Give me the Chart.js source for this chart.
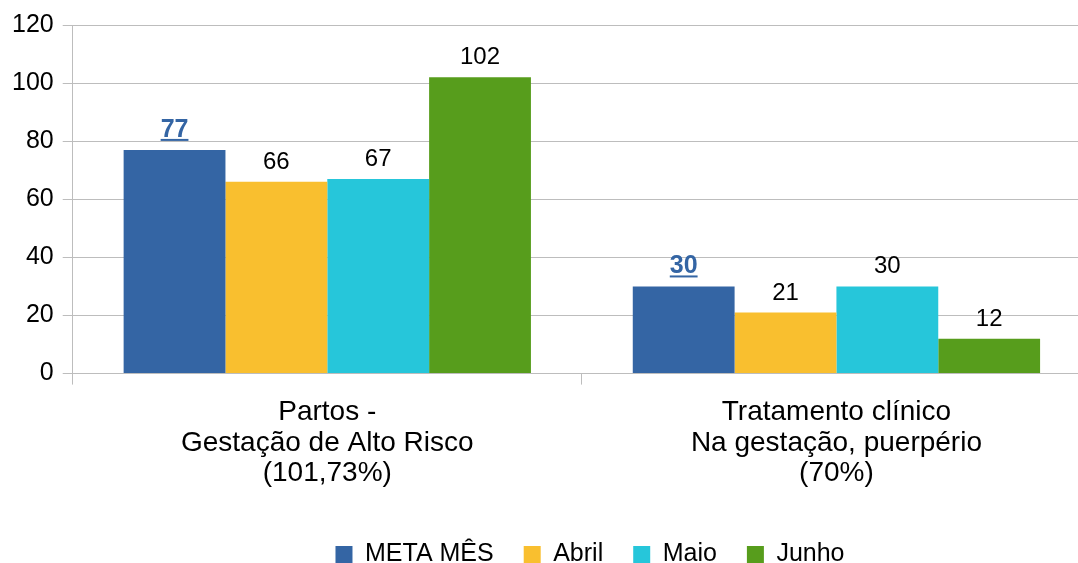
<!DOCTYPE html>
<html>
<head>
<meta charset="utf-8">
<script src="https://cdn.jsdelivr.net/npm/chart.js@4"></script>
<style>
  html, body { margin: 0; padding: 0; overflow: hidden; background: #fff; }
  #myChart { position: absolute; left: 0; top: 0; }
</style>
</head>
<body>
<canvas id="myChart" width="1177" height="563"></canvas>
<script>
// data
var categories = [
    ['Partos -', 'Gestação de Alto Risco', '(101,73%)'],
    ['Tratamento clínico', 'Na gestação, puerpério', '(70%)']
];
var seriesNames = ['META MÊS', 'Abril', 'Maio', 'Junho'];
var metaMes = [77, 30];
var abril = [66, 21];
var maio = [67, 30];
var junho = [102, 12];
var yTicks = [0, 20, 40, 60, 80, 100, 120];

var colors = ['#3465a4', '#f9bf2f', '#26c6da', '#579d1c'];
var fontFamily = '"Liberation Sans", Arial, sans-serif';
var gridColor = '#bdbdbd';

Chart.defaults.font.family = fontFamily;
Chart.defaults.color = '#000';

//draws the value above each bar, META values bold + underlined
var valueLabels = {
    id: 'valueLabels',
    afterDatasetsDraw: function(chart) {
        var c = chart.ctx;
        c.save();
        c.textAlign = 'center';
        c.textBaseline = 'alphabetic';
        chart.data.datasets.forEach(function(ds, i) {
            var meta = chart.getDatasetMeta(i);
            meta.data.forEach(function(bar, j) {
                var txt = String(ds.data[j]);
                var y = bar.y - 13;
                if (i === 0) {
                    c.font = 'bold 25px ' + fontFamily;
                    c.fillStyle = colors[0];
                    c.fillText(txt, bar.x, y);
                    var w = c.measureText(txt).width;
                    c.fillRect(bar.x - w / 2, y + 2, w, 2);
                } else {
                    c.font = '24px ' + fontFamily;
                    c.fillStyle = '#000';
                    c.fillText(txt, bar.x, y);
                }
            });
        });
        c.restore();
    }
};

function makeDatasets() {
    var values = [metaMes, abril, maio, junho];
    return seriesNames.map(function(name, i) {
        return {
            label: name,
            data: values[i],
            backgroundColor: colors[i],
            borderWidth: 0,
            categoryPercentage: 0.8,
            barPercentage: 1.0
        };
    });
}

var ctx = document.getElementById('myChart').getContext('2d');
new Chart(ctx, {
    type: 'bar',
    data: {
        labels: categories,
        datasets: makeDatasets()
    },
    options: {
        responsive: false,
        animation: false,
        layout: {
            padding: { left: 3, top: 25, right: 0, bottom: -14 }
        },
        plugins: {
            legend: {
                position: 'bottom',
                labels: {
                    boxWidth: 17,
                    boxHeight: 17,
                    padding: 30,
                    font: { size: 25 },
                    color: '#000'
                }
            },
            tooltip: { enabled: false }
        },
        scales: {
            x: {
                grid: {
                    offset: true,
                    drawOnChartArea: false,
                    color: gridColor,
                    tickLength: 11
                },
                border: { color: gridColor },
                ticks: {
                    font: { size: 28, lineHeight: 1.1 },
                    color: '#000',
                    padding: 12,
                    maxRotation: 0
                },
                afterFit: function(scale) {
                    scale.height += 11;
                }
            },
            y: {
                min: 0,
                max: 120,
                afterBuildTicks: function(scale) {
                    scale.ticks = yTicks.map(function(v) { return { value: v }; });
                },
                grid: { color: gridColor, tickLength: 10 },
                border: { color: gridColor },
                ticks: {
                    font: { size: 25 },
                    color: '#000',
                    padding: 9
                }
            },
            y2: {
                position: 'right',
                display: true,
                grid: { display: false },
                border: { display: false },
                ticks: { display: false },
                afterFit: function(scale) {
                    scale.width = 86;
                }
            }
        }
    },
    plugins: [valueLabels]
});
</script>
</body>
</html>
